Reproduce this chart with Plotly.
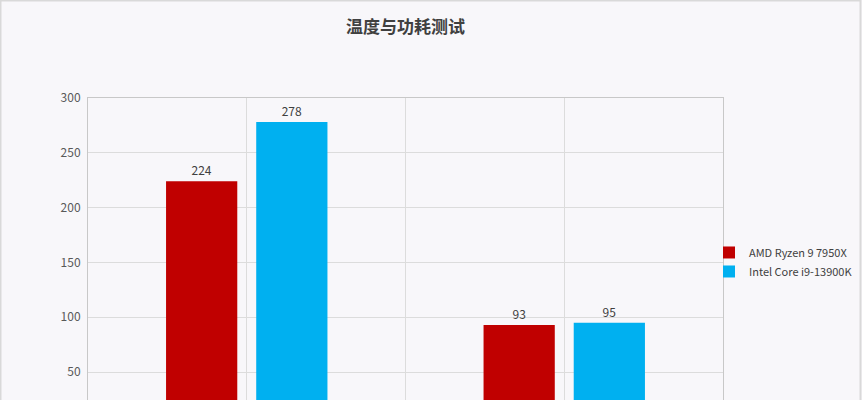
import plotly.graph_objects as go

categories = ["功耗 (W)", "温度 (°C)"]
series_names = ["AMD Ryzen 9 7950X", "Intel Core i9-13900K"]
amd_values = [224, 93]
intel_values = [278, 95]
y_tick_values = [50, 100, 150, 200, 250, 300]
colors = ["#C00000", "#00B0F0"]

x_pos = list(range(len(categories)))
font_family = "Noto Sans CJK SC, Noto Sans, sans-serif"

fig = go.Figure()
for name, vals, col in zip(series_names, [amd_values, intel_values], colors):
    fig.add_trace(go.Bar(
        x=x_pos, y=vals, name=name, marker_color=col, marker_line_width=0,
        text=[str(v) for v in vals], textposition="outside",
        textfont=dict(size=12, color="#404040", family=font_family),
        customdata=categories, hovertemplate="%{customdata}: %{y}<extra>" + name + "</extra>",
        cliponaxis=False,
    ))

fig.update_layout(
    width=862, height=400,
    margin=dict(l=88, r=139, t=98, b=0, autoexpand=False),
    paper_bgcolor="#F8F7FA", plot_bgcolor="#F8F7FA",
    barmode="group", bargap=0.432, bargroupgap=0.21,
    font=dict(family=font_family, size=12, color="#595959"),
    title=dict(text="<b>温度与功耗测试</b>", x=0.5, xref="paper", xanchor="center",
               y=1 - 27 / 400, yanchor="middle",
               font=dict(size=17, color="#404040", family=font_family)),
    showlegend=True,
    legend=dict(x=1 - 14 / 635, xanchor="left", y=0.457, yanchor="middle",
                bgcolor="rgba(0,0,0,0)", font=dict(size=11, color="#404040"),
                itemwidth=30, tracegroupgap=0),
    xaxis=dict(range=[-0.5, len(categories) - 0.5], tickvals=x_pos, ticktext=categories,
               showticklabels=False,
               showgrid=True, gridcolor="#DCDCDC", gridwidth=1,
               minor=dict(tickvals=[0.5], showgrid=True, gridcolor="#DCDCDC", gridwidth=1),
               showline=True, linecolor="#C8C8C8", linewidth=1, mirror=True,
               zeroline=False, ticks="", automargin=False),
    yaxis=dict(range=[24.5, 300], tickvals=y_tick_values,
               showgrid=True, gridcolor="#DCDCDC", gridwidth=1,
               showline=True, linecolor="#C8C8C8", linewidth=1, mirror=True,
               zeroline=False, ticks="", ticklen=0, automargin=False,
               ticklabelstandoff=4,
               tickfont=dict(size=12, color="#595959")),
    shapes=[dict(type="rect", xref="paper", yref="paper", x0=-87.5/635, x1=1 + 137.5/635,
                 y0=-0.1, y1=1 + 97.5/302, line=dict(color="#D9D9D9", width=2),
                 fillcolor="rgba(0,0,0,0)", layer="below")],
)

fig.write_html("out.html", config={"displayModeBar": False},
               post_script="document.body.style.margin='0';document.body.style.overflow='hidden';")
